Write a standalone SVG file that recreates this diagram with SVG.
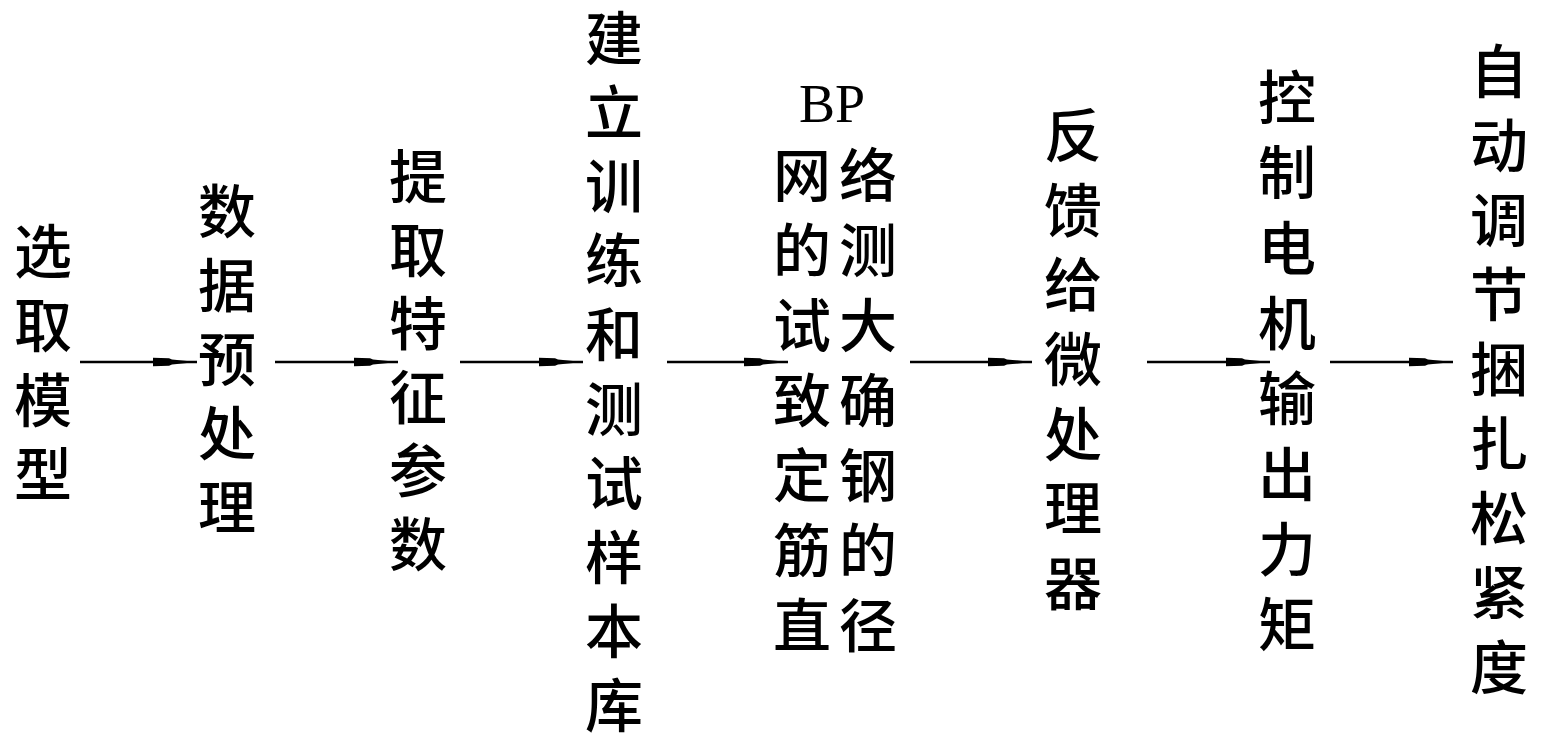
<svg xmlns="http://www.w3.org/2000/svg" width="1544" height="746" viewBox="0 0 1544 746">
<style>
.t{font-family:"Noto Sans CJK SC","Noto Sans CJK JP",sans-serif;font-size:58px;fill:#000;text-anchor:middle;font-weight:500}
.l{font-family:"Liberation Serif",serif;font-size:54px;fill:#000;text-anchor:middle}
.c{stroke:#000;stroke-width:2.4;fill:none}
</style>
<defs>
<marker id="ah" markerUnits="userSpaceOnUse" markerWidth="46" markerHeight="12" viewBox="-46 -6 46 12" refX="0" refY="0" orient="auto">
<path d="M-44,-4.2 L-28,-3.8 L-25,-2.6 L0,0 L-25,2.6 L-28,3.8 L-44,4.2 Z" fill="#000"/>
</marker>
</defs>
<rect width="1544" height="746" fill="#fff"/>
<g id="n1"><text class="t"><tspan x="43" y="273">选</tspan><tspan x="43" y="347">取</tspan><tspan x="43" y="422">模</tspan><tspan x="43" y="496">型</tspan></text></g>
<g id="n2"><text class="t"><tspan x="227" y="233">数</tspan><tspan x="227" y="307">据</tspan><tspan x="227" y="381">预</tspan><tspan x="227" y="455">处</tspan><tspan x="227" y="529">理</tspan></text></g>
<g id="n3"><text class="t"><tspan x="418" y="198">提</tspan><tspan x="418" y="272">取</tspan><tspan x="418" y="345">特</tspan><tspan x="418" y="419">征</tspan><tspan x="418" y="492">参</tspan><tspan x="418" y="566">数</tspan></text></g>
<g id="n4"><text class="t"><tspan x="614" y="60">建</tspan><tspan x="614" y="134">立</tspan><tspan x="614" y="208">训</tspan><tspan x="614" y="282">练</tspan><tspan x="614" y="356">和</tspan><tspan x="614" y="431">测</tspan><tspan x="614" y="505">试</tspan><tspan x="614" y="579">样</tspan><tspan x="614" y="653">本</tspan><tspan x="614" y="727">库</tspan></text></g>
<g id="n5"><text class="l" x="832" y="122">BP</text>
<text class="t"><tspan x="802" y="197">网</tspan><tspan x="868" y="197">络</tspan><tspan x="802" y="272">的</tspan><tspan x="868" y="272">测</tspan><tspan x="802" y="347">试</tspan><tspan x="868" y="347">大</tspan><tspan x="802" y="422">致</tspan><tspan x="868" y="422">确</tspan><tspan x="802" y="497">定</tspan><tspan x="868" y="497">钢</tspan><tspan x="802" y="572">筋</tspan><tspan x="868" y="572">的</tspan><tspan x="802" y="647">直</tspan><tspan x="868" y="647">径</tspan></text></g>
<g id="n6"><text class="t"><tspan x="1073" y="157">反</tspan><tspan x="1073" y="232">馈</tspan><tspan x="1073" y="306">给</tspan><tspan x="1073" y="381">微</tspan><tspan x="1073" y="456">处</tspan><tspan x="1073" y="530">理</tspan><tspan x="1073" y="605">器</tspan></text></g>
<g id="n7"><text class="t"><tspan x="1287" y="119">控</tspan><tspan x="1287" y="194">制</tspan><tspan x="1287" y="270">电</tspan><tspan x="1287" y="345">机</tspan><tspan x="1287" y="420">输</tspan><tspan x="1287" y="496">出</tspan><tspan x="1287" y="571">力</tspan><tspan x="1287" y="646">矩</tspan></text></g>
<g id="n8"><text class="t"><tspan x="1499" y="93">自</tspan><tspan x="1499" y="167">动</tspan><tspan x="1499" y="242">调</tspan><tspan x="1499" y="316">节</tspan><tspan x="1499" y="391">捆</tspan><tspan x="1499" y="465">扎</tspan><tspan x="1499" y="540">松</tspan><tspan x="1499" y="614">紧</tspan><tspan x="1499" y="689">度</tspan></text></g>
<g id="connectors">
<line class="c" x1="80" y1="362" x2="197" y2="362" marker-end="url(#ah)"/>
<line class="c" x1="275" y1="362" x2="398" y2="362" marker-end="url(#ah)"/>
<line class="c" x1="460" y1="362" x2="583" y2="362" marker-end="url(#ah)"/>
<line class="c" x1="667" y1="362" x2="788" y2="362" marker-end="url(#ah)"/>
<line class="c" x1="910" y1="362" x2="1032" y2="362" marker-end="url(#ah)"/>
<line class="c" x1="1147" y1="362" x2="1270" y2="362" marker-end="url(#ah)"/>
<line class="c" x1="1330" y1="362" x2="1453" y2="362" marker-end="url(#ah)"/>
</g>
</svg>
